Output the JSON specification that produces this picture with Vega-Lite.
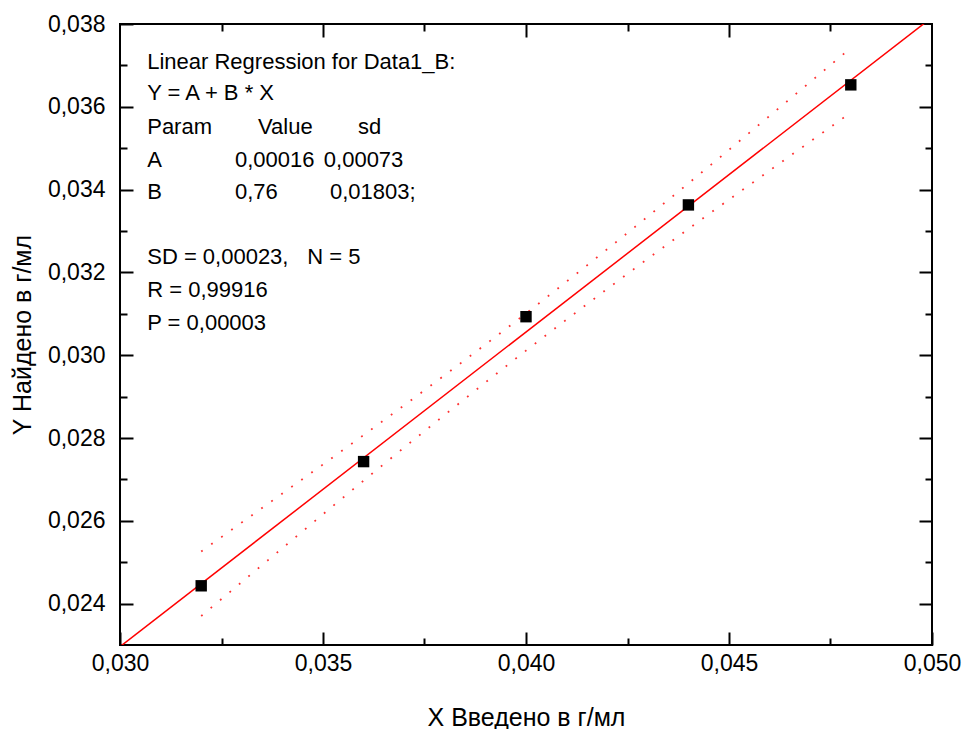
{
  "$schema": "https://vega.github.io/schema/vega-lite/v6.json",
  "width": 812,
  "height": 621,
  "autosize": {"type": "none"},
  "padding": {"left": 120, "top": 24, "right": 32, "bottom": 84},
  "background": "white",
  "config": {
    "view": {"stroke": "black", "strokeWidth": 2},
    "font": "Liberation Sans",
    "axis": {
      "labelFont": "Liberation Sans",
      "titleFont": "Liberation Sans",
      "labelFontSize": 23,
      "titleFontSize": 25,
      "titleFontWeight": "normal",
      "labelColor": "black",
      "titleColor": "black",
      "tickColor": "black",
      "tickWidth": 2,
      "domain": false,
      "grid": false
    }
  },
  "datasets": {
    "points": [
      {"x": 0.032, "y": 0.02443},
      {"x": 0.036, "y": 0.02743},
      {"x": 0.040, "y": 0.03093},
      {"x": 0.044, "y": 0.03363},
      {"x": 0.048, "y": 0.03653}
    ],
    "fit": [
      {"x": 0.030, "y": 0.02296},
      {"x": 0.050, "y": 0.03816}
    ],
    "bands": [
      {"band": "upper", "x": 0.032, "y": 0.02526},
      {"band": "upper", "x": 0.034, "y": 0.02666},
      {"band": "upper", "x": 0.036, "y": 0.02807},
      {"band": "upper", "x": 0.038, "y": 0.02952},
      {"band": "upper", "x": 0.040, "y": 0.03101},
      {"band": "upper", "x": 0.042, "y": 0.03256},
      {"band": "upper", "x": 0.044, "y": 0.03415},
      {"band": "upper", "x": 0.046, "y": 0.03578},
      {"band": "upper", "x": 0.048, "y": 0.03742},
      {"band": "lower", "x": 0.032, "y": 0.02370},
      {"band": "lower", "x": 0.034, "y": 0.02534},
      {"band": "lower", "x": 0.036, "y": 0.02697},
      {"band": "lower", "x": 0.038, "y": 0.02856},
      {"band": "lower", "x": 0.040, "y": 0.03011},
      {"band": "lower", "x": 0.042, "y": 0.03160},
      {"band": "lower", "x": 0.044, "y": 0.03305},
      {"band": "lower", "x": 0.046, "y": 0.03446},
      {"band": "lower", "x": 0.048, "y": 0.03586}
    ],
    "notes": [
      {"t": "Linear Regression for Data1_B:", "x": 0.03067, "y": 0.03708},
      {"t": "Y = A + B * X", "x": 0.03067, "y": 0.03633},
      {"t": "Param", "x": 0.03067, "y": 0.03551},
      {"t": "Value", "x": 0.03340, "y": 0.03551},
      {"t": "sd", "x": 0.03586, "y": 0.03551},
      {"t": "A", "x": 0.03067, "y": 0.03472},
      {"t": "0,00016", "x": 0.03283, "y": 0.03472},
      {"t": "0,00073", "x": 0.03502, "y": 0.03472},
      {"t": "B", "x": 0.03067, "y": 0.03394},
      {"t": "0,76", "x": 0.03283, "y": 0.03394},
      {"t": "0,01803;", "x": 0.03517, "y": 0.03394},
      {"t": "SD = 0,00023,", "x": 0.03067, "y": 0.03237},
      {"t": "N = 5", "x": 0.03461, "y": 0.03237},
      {"t": "R  = 0,99916", "x": 0.03067, "y": 0.03158},
      {"t": "P = 0,00003", "x": 0.03067, "y": 0.03078}
    ]
  },
  "resolve": {"axis": {"x": "independent", "y": "independent"}},
  "layer": [
    {
      "data": {"name": "fit"},
      "mark": {"type": "line", "color": "#ff0000", "strokeWidth": 1.5, "clip": true},
      "encoding": {
        "x": {"field": "x", "type": "quantitative",
              "scale": {"domain": [0.030, 0.050], "nice": false, "zero": false},
              "axis": {"orient": "top", "title": null, "labels": false,
                       "values": [0.0325, 0.035, 0.0375, 0.040, 0.0425, 0.045, 0.0475],
                       "tickSize": {"condition": {"test": "abs(datum.value*200 - round(datum.value*200)) < 0.001", "value": -13}, "value": -7}}},
        "y": {"field": "y", "type": "quantitative",
              "scale": {"domain": [0.023, 0.038], "nice": false, "zero": false},
              "axis": {"orient": "right", "title": null, "labels": false,
                       "values": [0.024, 0.025, 0.026, 0.027, 0.028, 0.029, 0.030, 0.031, 0.032, 0.033, 0.034, 0.035, 0.036, 0.037],
                       "tickSize": {"condition": {"test": "abs(datum.value*500 - round(datum.value*500)) < 0.001", "value": -13}, "value": -7}}}
      }
    },
    {
      "data": {"name": "bands"},
      "mark": {"type": "line", "color": "#ff3030", "strokeWidth": 1.8, "strokeDash": [1.8, 10.5], "interpolate": "monotone"},
      "encoding": {
        "x": {"field": "x", "type": "quantitative", "axis": null},
        "y": {"field": "y", "type": "quantitative", "axis": null},
        "detail": {"field": "band"}
      }
    },
    {
      "data": {"name": "points"},
      "mark": {"type": "point", "shape": "square", "filled": true, "color": "black", "opacity": 1, "size": 130},
      "encoding": {
        "x": {"field": "x", "type": "quantitative",
              "axis": {"orient": "bottom", "title": "X Введено в г/мл", "titlePadding": 30,
                       "values": [0.030, 0.0325, 0.035, 0.0375, 0.040, 0.0425, 0.045, 0.0475, 0.050],
                       "labelFlush": false, "labelPadding": 20,
                       "labelExpr": "abs(datum.value*200 - round(datum.value*200)) < 0.001 ? replace(format(datum.value, '.3f'), '.', ',') : ''",
                       "tickSize": {"condition": {"test": "abs(datum.value*200 - round(datum.value*200)) < 0.001", "value": -13}, "value": -7}}},
        "y": {"field": "y", "type": "quantitative",
              "axis": {"orient": "left", "title": "Y Найдено в г/мл", "titlePadding": 12,
                       "values": [0.024, 0.025, 0.026, 0.027, 0.028, 0.029, 0.030, 0.031, 0.032, 0.033, 0.034, 0.035, 0.036, 0.037, 0.038],
                       "labelFlush": false, "labelPadding": 28,
                       "labelExpr": "abs(datum.value*500 - round(datum.value*500)) < 0.001 ? replace(format(datum.value, '.3f'), '.', ',') : ''",
                       "tickSize": {"condition": {"test": "abs(datum.value*500 - round(datum.value*500)) < 0.001", "value": -13}, "value": -7}}}
      }
    },
    {
      "data": {"name": "notes"},
      "mark": {"type": "text", "align": "left", "baseline": "middle", "fontSize": 22, "font": "Liberation Sans", "color": "black"},
      "encoding": {
        "x": {"field": "x", "type": "quantitative", "axis": null},
        "y": {"field": "y", "type": "quantitative", "axis": null},
        "text": {"field": "t"}
      }
    }
  ]
}
